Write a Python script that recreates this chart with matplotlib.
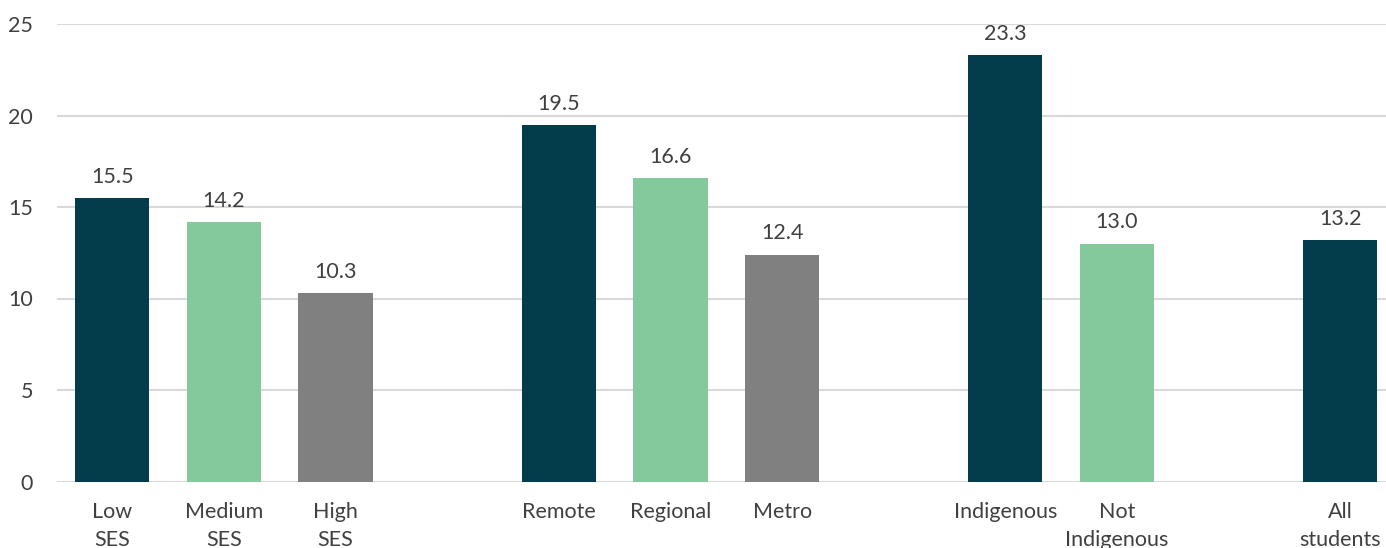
import matplotlib.pyplot as plt
import numpy as np

plt.rcParams['font.family'] = ['Lato', 'DejaVu Sans']

# empty strings are the spacer slots between groups
labels = ['Low\nSES', 'Medium\nSES', 'High\nSES', '',
          'Remote', 'Regional', 'Metro', '',
          'Indigenous', 'Not\nIndigenous', '',
          'All\nstudents']
values = [15.5, 14.2, 10.3, None,
          19.5, 16.6, 12.4, None,
          23.3, 13.0, None,
          13.2]

dark = '#033d4c'
green = '#84c99b'
grey = '#808080'
colors = [dark, green, grey, None, dark, green, grey, None, dark, green, None, dark]
text_col = '#404040'

fig = plt.figure(figsize=(13.86, 5.48), dpi=100)
ax = fig.add_axes([56.5 / 1386, (548 - 481.5) / 548, (1386 - 56.5) / 1386, 457.5 / 548])

x = np.arange(len(labels))
for i in range(len(labels)):
    if values[i] is None:
        continue
    ax.bar(x[i], values[i], width=0.665, color=colors[i], zorder=3)
    ax.annotate('%.1f' % values[i], (x[i], values[i]), xytext=(0, 8),
                textcoords='offset points', ha='center', va='bottom',
                fontsize=15.5, color=text_col)

ax.set_xlim(-0.5, 11.41)
ax.set_ylim(0, 25)
ax.set_yticks([0, 5, 10, 15, 20, 25])
ax.set_xticks(x)
ax.set_xticklabels(labels, fontsize=15.5, color=text_col, linespacing=1.45, va='top')
ax.tick_params(axis='y', labelsize=15.5, labelcolor=text_col, length=0, pad=17)
ax.tick_params(axis='x', length=0, pad=15)
ax.grid(axis='y', color='#d9d9d9', linewidth=1.5, zorder=0)
for s in ax.spines.values():
    s.set_visible(False)

fig.savefig('out.png', dpi=100)
